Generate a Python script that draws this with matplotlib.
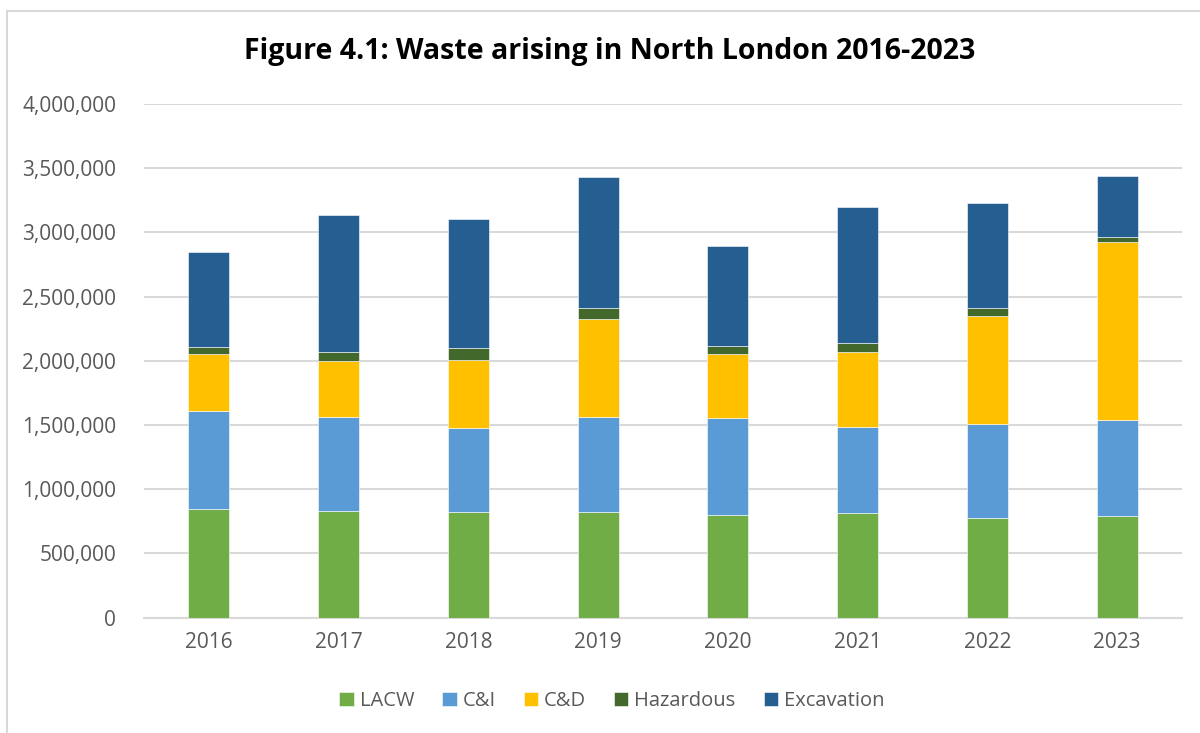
import matplotlib.pyplot as plt
import numpy as np
from matplotlib.patches import Rectangle
from matplotlib.ticker import FuncFormatter

plt.rcParams['font.family'] = ['Open Sans', 'DejaVu Sans']

# data
years = ['2016', '2017', '2018', '2019', '2020', '2021', '2022', '2023']
lacw = [843000, 828000, 820000, 820000, 799000, 817000, 776000, 791000]
ci = [764000, 734000, 659000, 745000, 753000, 670000, 734000, 745000]
cd = [444000, 436000, 525000, 758000, 499000, 581000, 841000, 1389000]
hazardous = [55000, 73000, 93000, 86000, 62000, 68000, 58000, 41000]
excavation = [744000, 1062000, 1005000, 1025000, 783000, 1064000, 822000, 475000]

series = [('LACW', lacw, '#70AD47'),
          ('C&I', ci, '#5B9BD5'),
          ('C&D', cd, '#FFC000'),
          ('Hazardous', hazardous, '#43682B'),
          ('Excavation', excavation, '#255E91')]

fig = plt.figure(figsize=(12, 7.33), dpi=100)

# chart frame (cropped at right/bottom)
fig.patches.append(Rectangle((7/1200, -0.05), 1.1, 1 - 11/733 + 0.05,
                             transform=fig.transFigure, fill=False,
                             edgecolor='#d9d9d9', lw=1.5))

ax = fig.add_axes([0.12, 0.1574, 0.865, 0.7007])
x = np.arange(len(years))
bottom = np.zeros(len(years))
for name, vals, col in series:
    ax.bar(x, vals, width=0.315, bottom=bottom, color=col, label=name,
           edgecolor='white', linewidth=0.4, zorder=3)
    bottom += np.array(vals)

ax.set_xlim(-0.5, len(years) - 0.5)
ax.set_ylim(0, 4000000)
ax.set_yticks(np.arange(0, 4000001, 500000))
ax.yaxis.set_major_formatter(FuncFormatter(lambda v, p: f'{int(v):,}'))
ax.set_xticks(x)
ax.set_xticklabels(years)
ax.grid(axis='y', color='#d9d9d9', lw=1.5, zorder=0)
for s in ['top', 'right', 'left']:
    ax.spines[s].set_visible(False)
ax.spines['bottom'].set_color('#d9d9d9')
ax.spines['bottom'].set_linewidth(1.5)
ax.tick_params(axis='both', length=0, labelsize=15, colors='#595959')
ax.tick_params(axis='y', pad=20)
ax.tick_params(axis='x', pad=10)

fig.text(0.508, 0.93, 'Figure 4.1: Waste arising in North London 2016-2023',
         ha='center', va='center', fontsize=20.5, fontweight='bold', color='black')

leg = fig.legend(loc='center', bbox_to_anchor=(0.51, 0.043), ncol=5, frameon=False,
                 fontsize=14.5, handlelength=0.7, handleheight=0.7,
                 handletextpad=0.3, columnspacing=1.4)
for t in leg.get_texts():
    t.set_color('#595959')

fig.savefig('out.png', dpi=100)
